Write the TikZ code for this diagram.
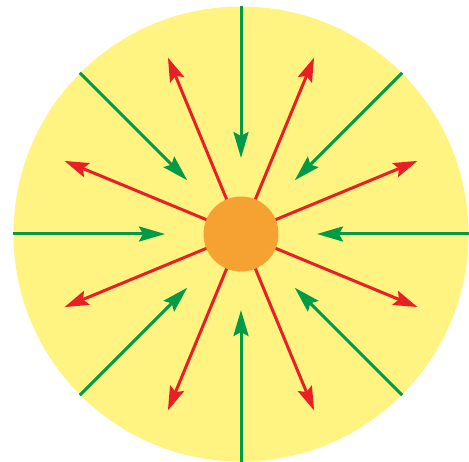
\documentclass[tikz,border=0pt]{standalone}
\usetikzlibrary{arrows.meta,calc}
\definecolor{bgyellow}{RGB}{255,243,130}
\definecolor{sunorange}{RGB}{245,162,50}
\definecolor{ingreen}{RGB}{0,154,72}
\definecolor{outred}{RGB}{232,32,38}
\tikzset{
  inarrow/.style={draw=ingreen, line width=3pt, -{Stealth[length=26pt,width=15pt,inset=4pt]}},
  outarrow/.style={draw=outred, line width=3pt, -{Stealth[length=24pt,width=15pt,inset=4pt]}},
}
\begin{document}
\begin{tikzpicture}[x=1pt,y=1pt]
\useasboundingbox (0,0) rectangle (469,461);
\begin{scope}
\clip (0,0) rectangle (469,461);
\fill[bgyellow] (241,227) circle (227.5);
\coordinate (c) at (241,227);
\foreach \i in {0,...,7} {
  \coordinate (gs\i) at ($(c)+(\i*45:228)$);
  \coordinate (ge\i) at ($(c)+(\i*45:76)$);
  \draw[inarrow] (gs\i) -- (ge\i);
  \coordinate (rs\i) at ($(c)+(\i*45+22.5:30)$);
  \coordinate (re\i) at ($(c)+(\i*45+22.5:191)$);
  \draw[outarrow] (rs\i) -- (re\i);
}
\node[circle, fill=sunorange, minimum size=75pt, inner sep=0pt] (sun) at (c) {};
\end{scope}
\end{tikzpicture}
\end{document}
